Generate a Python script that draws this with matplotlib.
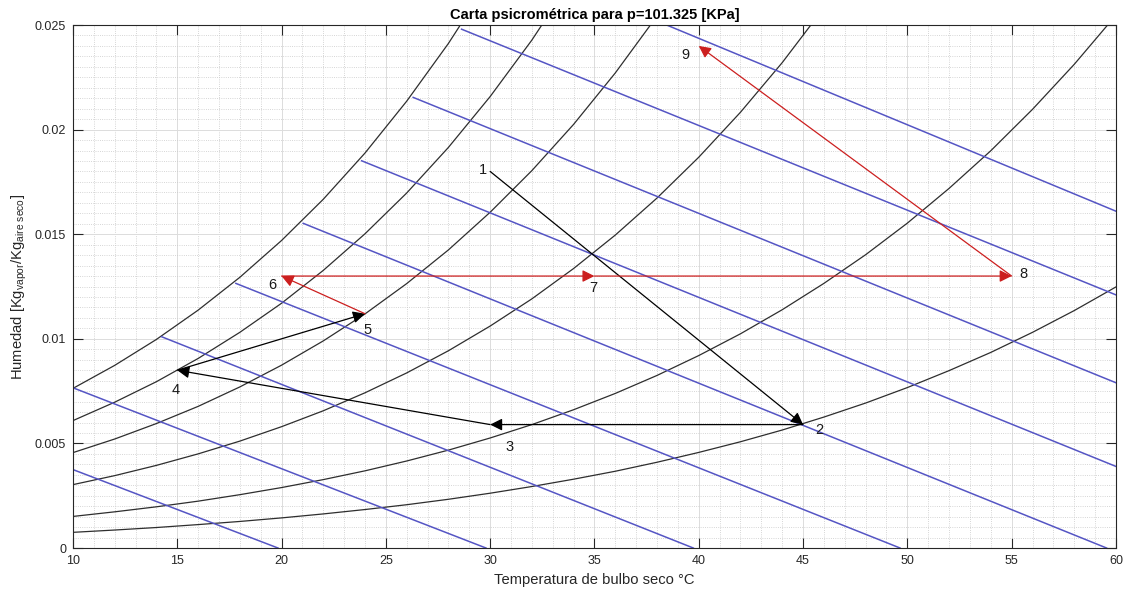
import matplotlib
matplotlib.use('Agg')
import matplotlib.pyplot as plt
from matplotlib.ticker import MultipleLocator, FuncFormatter

plt.rcParams['font.family'] = ['Liberation Sans', 'DejaVu Sans']
plt.rcParams['mathtext.fontset'] = 'custom'
plt.rcParams['mathtext.rm'] = 'Liberation Sans'
plt.rcParams['mathtext.it'] = 'Liberation Sans:italic'

# dry bulb temperature samples (C) shared by the humidity curves
temps = [10, 12, 14, 16, 18, 20, 22, 24, 26, 28, 30, 32, 34, 36, 38, 40,
         42, 44, 46, 48, 50, 52, 54, 56, 58, 60]

# relative humidity curves, humidity ratio read at each temperature
rh100 = [0.00763, 0.00873, 0.00997, 0.01137, 0.01294, 0.01470, 0.01667,
         0.01888, 0.02136, 0.02412, 0.02721]
rh80 = [0.00609, 0.00697, 0.00795, 0.00906, 0.01031, 0.01170, 0.01327,
        0.01502, 0.01697, 0.01915, 0.02158, 0.02428, 0.02730]
rh60 = [0.00456, 0.00521, 0.00595, 0.00677, 0.00770, 0.00874, 0.00990,
        0.01119, 0.01264, 0.01425, 0.01605, 0.01804, 0.02025, 0.02271,
        0.02543]
rh40 = [0.00303, 0.00346, 0.00395, 0.00450, 0.00511, 0.00580, 0.00656,
        0.00742, 0.00837, 0.00943, 0.01061, 0.01191, 0.01336, 0.01496,
        0.01673, 0.01868, 0.02083, 0.02320, 0.02582]
rh20 = [0.00151, 0.00173, 0.00197, 0.00224, 0.00255, 0.00289, 0.00327,
        0.00369, 0.00416, 0.00468, 0.00526, 0.00590, 0.00661, 0.00739,
        0.00825, 0.00920, 0.01024, 0.01139, 0.01265, 0.01402, 0.01553,
        0.01719, 0.01899, 0.02097, 0.02312, 0.02547]
rh10 = [0.00075, 0.00086, 0.00098, 0.00112, 0.00127, 0.00144, 0.00163,
        0.00184, 0.00207, 0.00233, 0.00262, 0.00294, 0.00329, 0.00367,
        0.00410, 0.00457, 0.00508, 0.00564, 0.00626, 0.00693, 0.00767,
        0.00848, 0.00935, 0.01031, 0.01135, 0.01248]
rh_curves = [rh100, rh80, rh60, rh40, rh20, rh10]

# constant enthalpy lines (start / end points)
h_start_T = [10, 10, 14.25, 17.81, 21.04, 23.84, 26.31, 28.63, 38.46]
h_start_w = [0.00375, 0.00766, 0.0101, 0.01265, 0.01552, 0.01851, 0.02154, 0.0248, 0.025]
h_end_T = [19.83, 29.8, 39.74, 49.65, 59.55, 60, 60, 60, 60]
h_end_w = [0, 0, 0, 0, 0, 0.0039, 0.0079, 0.0121, 0.0161]

# process states 1..9
pts_T = [30, 45, 30, 15, 24, 20, 35, 55, 40]
pts_w = [0.018, 0.0059, 0.0059, 0.0085, 0.0112, 0.013, 0.013, 0.013, 0.024]
seg_colors = ['k', 'k', 'k', 'k', '#cc1f1f', '#cc1f1f', '#cc1f1f', '#cc1f1f']
labels = ['1', '2', '3', '4', '5', '6', '7', '8', '9']
lab_T = [29.65, 45.8, 30.95, 14.94, 24.14, 19.54, 34.93, 55.55, 39.34]
lab_w = [0.01807, 0.00564, 0.00483, 0.00755, 0.01042, 0.01257, 0.01243, 0.0131, 0.02357]

fig = plt.figure(figsize=(11.31, 5.94), dpi=100)
ax = fig.add_axes([0.0645, 0.0774, 0.9222, 0.8805])

for w in rh_curves:
    ax.plot(temps[:len(w)], w, color='#2e2e2e', lw=0.9)

for i in range(len(h_start_T)):
    ax.plot([h_start_T[i], h_end_T[i]], [h_start_w[i], h_end_w[i]],
            color='#5555c4', lw=1.1)

for i in range(len(pts_T) - 1):
    ax.annotate('', xy=(pts_T[i + 1], pts_w[i + 1]), xytext=(pts_T[i], pts_w[i]),
                arrowprops=dict(arrowstyle='-|>', color=seg_colors[i], lw=0.9,
                                mutation_scale=18, shrinkA=0, shrinkB=0))

for i in range(len(labels)):
    ax.text(lab_T[i], lab_w[i], labels[i], fontsize=10.5, color='#1a1a1a',
            ha='center', va='center')

ax.set_xlim(10, 60)
ax.set_ylim(0, 0.025)
ax.xaxis.set_major_locator(MultipleLocator(5))
ax.yaxis.set_major_locator(MultipleLocator(0.005))
ax.xaxis.set_minor_locator(MultipleLocator(1))
ax.yaxis.set_minor_locator(MultipleLocator(0.0005))
ax.yaxis.set_major_formatter(FuncFormatter(lambda v, p: '%g' % round(v, 4)))

ax.grid(which='major', color='#dcdcdc', lw=0.7, ls='-')
ax.grid(which='minor', color='#c8c8c8', lw=0.6, ls=':')
ax.set_axisbelow(True)

ax.tick_params(which='major', direction='in', length=7, width=0.8,
               top=True, right=True, labelsize=9, colors='#262626', pad=5)
ax.tick_params(which='minor', length=0)
for s in ax.spines.values():
    s.set_color('#262626')
    s.set_linewidth(0.8)

ax.set_title('Carta psicrométrica para p=101.325 [KPa]', fontsize=10.5,
             fontweight='bold', pad=4)
ax.set_xlabel('Temperatura de bulbo seco °C', fontsize=10.6, color='#262626')
ax.set_ylabel(r'Humedad [Kg$_{\mathrm{vapor}}$/Kg$_{\mathrm{aire\ seco}}$]',
              fontsize=10.6, color='#262626')

fig.savefig('out.png', dpi=100)
